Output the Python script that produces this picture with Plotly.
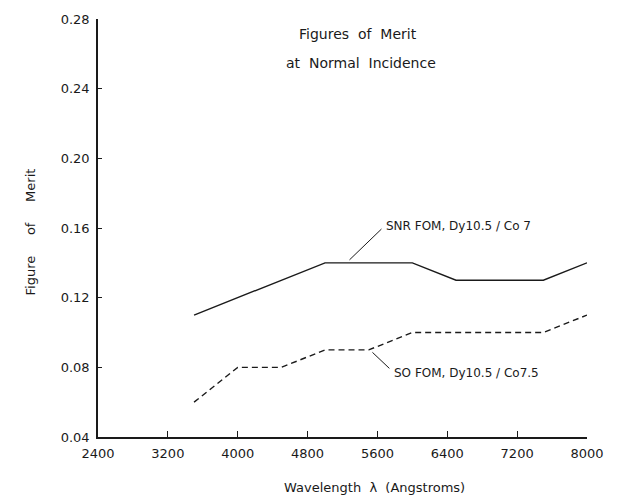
import plotly.graph_objects as go

# Data
snr_x = [3500, 4000, 4500, 5000, 5500, 6000, 6500, 7000, 7500, 8000]
snr_y = [0.11, 0.12, 0.13, 0.14, 0.14, 0.14, 0.13, 0.13, 0.13, 0.14]

so_x = [3500, 4000, 4500, 5000, 5500, 6000, 6500, 7000, 7500, 8000]
so_y = [0.06, 0.08, 0.08, 0.09, 0.09, 0.10, 0.10, 0.10, 0.10, 0.11]

x_ticks = [2400, 3200, 4000, 4800, 5600, 6400, 7200, 8000]
y_ticks = [0.04, 0.08, 0.12, 0.16, 0.20, 0.24, 0.28]

FONT = "DejaVu Sans"
INK = "#1a1a1a"

W, H = 625, 499
L, R, T, B = 98, 38, 16, 62
pw, ph = W - L - R, H - T - B


def px(x):
    return (x - L) / pw


def py(y):
    return 1 - (y - T) / ph


fig = go.Figure()
fig.add_trace(go.Scatter(x=snr_x, y=snr_y, mode="lines",
                         line=dict(color=INK, width=1.4), showlegend=False))
fig.add_trace(go.Scatter(x=so_x, y=so_y, mode="lines",
                         line=dict(color=INK, width=1.4, dash="6px,4px"), showlegend=False))

# leader lines
fig.add_shape(type="line", xref="x", yref="y", x0=5280, y0=0.1417, x1=5646, y1=0.1594,
              line=dict(color=INK, width=1))
fig.add_shape(type="line", xref="x", yref="y", x0=5543, y0=0.0886, x1=5737, y1=0.0794,
              line=dict(color=INK, width=1))

fig.add_annotation(x=5680, y=0.1611, xref="x", yref="y", text="SNR FOM, Dy10.5 / Co 7",
                   showarrow=False, xanchor="left", yanchor="middle",
                   font=dict(family=FONT, size=12, color=INK))
fig.add_annotation(x=5771, y=0.0766, xref="x", yref="y", text="SO FOM, Dy10.5 / Co7.5",
                   showarrow=False, xanchor="left", yanchor="middle",
                   font=dict(family=FONT, size=12, color=INK))

# title lines
fig.add_annotation(x=px(358), y=py(31), xref="paper", yref="paper", text="Figures  of  Merit",
                   showarrow=False, xanchor="center", yanchor="middle",
                   font=dict(family=FONT, size=14, color=INK))
fig.add_annotation(x=px(361), y=py(60), xref="paper", yref="paper", text="at  Normal  Incidence",
                   showarrow=False, xanchor="center", yanchor="middle",
                   font=dict(family=FONT, size=14, color=INK))

fig.add_annotation(x=px(374), y=py(488), xref="paper", yref="paper",
                   text="Wavelength  λ  (Angstroms)", showarrow=False,
                   xanchor="center", yanchor="middle",
                   font=dict(family=FONT, size=13, color=INK))
fig.add_annotation(x=px(30), y=py(231), xref="paper", yref="paper",
                   text="Figure     of     Merit", textangle=-90, showarrow=False,
                   xanchor="center", yanchor="middle",
                   font=dict(family=FONT, size=13, color=INK))

fig.update_layout(
    width=W, height=H,
    margin=dict(l=L, r=R, t=T, b=B, pad=0),
    paper_bgcolor="white", plot_bgcolor="white",
    font=dict(family=FONT, size=12, color=INK),
    xaxis=dict(range=[2400, 8000], tickvals=x_ticks, ticktext=[str(v) for v in x_ticks],
               showgrid=False, zeroline=False, showline=True, linecolor=INK, linewidth=1.5,
               ticks="inside", ticklen=6, tickcolor=INK, ticklabelstandoff=4,
               tickfont=dict(size=13, family=FONT)),
    yaxis=dict(range=[0.04, 0.28], tickvals=y_ticks, ticktext=[f"{v:.2f}" for v in y_ticks],
               showgrid=False, zeroline=False, showline=True, linecolor=INK, linewidth=1.5,
               ticks="inside", ticklen=4, tickcolor=INK, ticklabelstandoff=4,
               tickfont=dict(size=13, family=FONT)),
)

fig.write_html("out.html")
